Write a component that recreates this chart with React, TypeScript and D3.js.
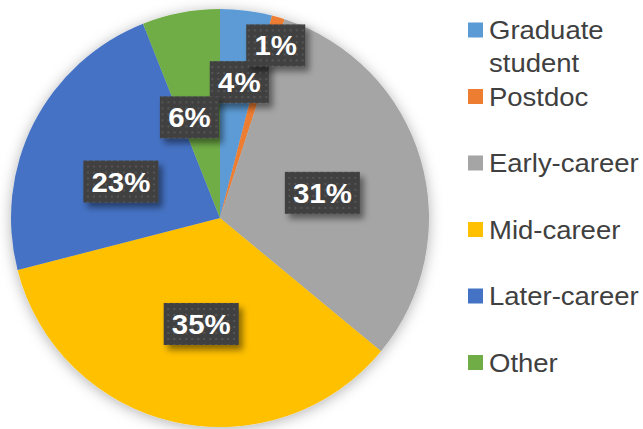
import { useEffect, useRef } from "react";
import * as d3 from "d3";

const categories = [
  "Graduate student",
  "Postdoc",
  "Early-career",
  "Mid-career",
  "Later-career",
  "Other",
];
const shares = [4, 1, 31, 35, 23, 6];
const colors = ["#5B9BD5", "#ED7D31", "#A5A5A5", "#FFC000", "#4472C4", "#70AD47"];
const legendLines = [["Graduate", "student"], ["Postdoc"], ["Early-career"], ["Mid-career"], ["Later-career"], ["Other"]];

// label distance from centre, as a share of radius (small slices pushed outward)
const labelRadius = [0.66, 0.87, 0.5, 0.5, 0.5, 0.5];
// small nudges so labels sit where the original "best fit" put them
const labelNudge = [[2, 1], [5, 2], [2, 4], [4, 4], [-6, 11], [-11, 2]];

const WIDTH = 643;
const HEIGHT = 429;

function App() {
  const ref = useRef<SVGSVGElement | null>(null);

  useEffect(() => {
    if (!ref.current) return;
    const svg = d3.select(ref.current);
    svg.selectAll("*").remove();

    const cx = 220;
    const cy = 218;
    const R = 209;

    const defs = svg.append("defs");
    const pieShadow = defs
      .append("filter")
      .attr("id", "pieShadow")
      .attr("x", "-20%")
      .attr("y", "-20%")
      .attr("width", "140%")
      .attr("height", "140%");
    pieShadow
      .append("feDropShadow")
      .attr("dx", 0)
      .attr("dy", 2)
      .attr("stdDeviation", 7)
      .attr("flood-color", "#000")
      .attr("flood-opacity", 0.3);

    const boxShadow = defs
      .append("filter")
      .attr("id", "boxShadow")
      .attr("x", "-30%")
      .attr("y", "-30%")
      .attr("width", "160%")
      .attr("height", "170%");
    boxShadow
      .append("feDropShadow")
      .attr("dx", 4)
      .attr("dy", 5)
      .attr("stdDeviation", 3)
      .attr("flood-color", "#000")
      .attr("flood-opacity", 0.45);

    const pattern = defs
      .append("pattern")
      .attr("id", "dots")
      .attr("width", 6)
      .attr("height", 6)
      .attr("patternUnits", "userSpaceOnUse");
    pattern.append("rect").attr("width", 6).attr("height", 6).attr("fill", "#404040");
    pattern.append("rect").attr("x", 2).attr("y", 2).attr("width", 2).attr("height", 2).attr("fill", "#555555");

    const data = categories.map((c, i) => ({ name: c, value: shares[i], i }));
    const pie = d3
      .pie<{ name: string; value: number; i: number }>()
      .value((d) => d.value)
      .sort(null);
    const arcs = pie(data);
    const arc = d3
      .arc<d3.PieArcDatum<{ name: string; value: number; i: number }>>()
      .innerRadius(0)
      .outerRadius(R);

    const g = svg.append("g").attr("transform", `translate(${cx},${cy})`);
    g.append("g")
      .attr("filter", "url(#pieShadow)")
      .selectAll("path")
      .data(arcs)
      .join("path")
      .attr("d", arc)
      .attr("fill", (d) => colors[d.data.i]);

    const total = d3.sum(shares);
    const labels = g
      .selectAll("g.lbl")
      .data(arcs)
      .join("g")
      .attr("class", "lbl")
      .attr("transform", (d) => {
        const r = R * labelRadius[d.data.i];
        const [x, y] = d3
          .arc<any>()
          .innerRadius(r)
          .outerRadius(r)
          .centroid(d);
        const [nx, ny] = labelNudge[d.data.i];
        return `translate(${x + nx},${y + ny})`;
      });

    labels.each(function (d) {
      const txt = `${Math.round((d.data.value / total) * 100)}%`;
      const w = txt.length > 2 ? 75 : 59;
      const h = 42;
      const sel = d3.select(this);
      sel
        .append("rect")
        .attr("x", -w / 2)
        .attr("y", -h / 2)
        .attr("width", w)
        .attr("height", h)
        .attr("fill", "url(#dots)")
        .attr("filter", "url(#boxShadow)");
      sel
        .append("text")
        .attr("text-anchor", "middle")
        .attr("transform", "translate(0,10) scale(1.05,1)")
        .attr("fill", "#FFFFFF")
        .attr("font-family", "Liberation Sans, Arial, sans-serif")
        .attr("font-weight", "bold")
        .attr("font-size", 28)
        .text(txt);
    });

    const legend = svg
      .append("g")
      .selectAll("g")
      .data(categories)
      .join("g")
      .attr("transform", (_, i) => `translate(468,${30 + i * 66.5})`);
    legend
      .append("rect")
      .attr("x", 0)
      .attr("y", -7.5)
      .attr("width", 15)
      .attr("height", 15)
      .attr("fill", (_, i) => colors[i]);
    legend.each(function (_, i) {
      const t = d3
        .select(this)
        .append("text")
        .attr("transform", "translate(21,9) scale(1.1,1)")
        .attr("fill", "#404040")
        .attr("font-family", "Liberation Sans, Arial, sans-serif")
        .attr("font-size", 25);
      legendLines[i].forEach((line, j) => {
        t.append("tspan").attr("x", 0).attr("dy", j === 0 ? 0 : 33).text(line);
      });
    });
  }, []);

  return (
    <svg
      ref={ref}
      width={WIDTH}
      height={HEIGHT}
      style={{ position: "absolute", left: 0, top: 0, background: "#fff" }}
    />
  );
}

export default App;
